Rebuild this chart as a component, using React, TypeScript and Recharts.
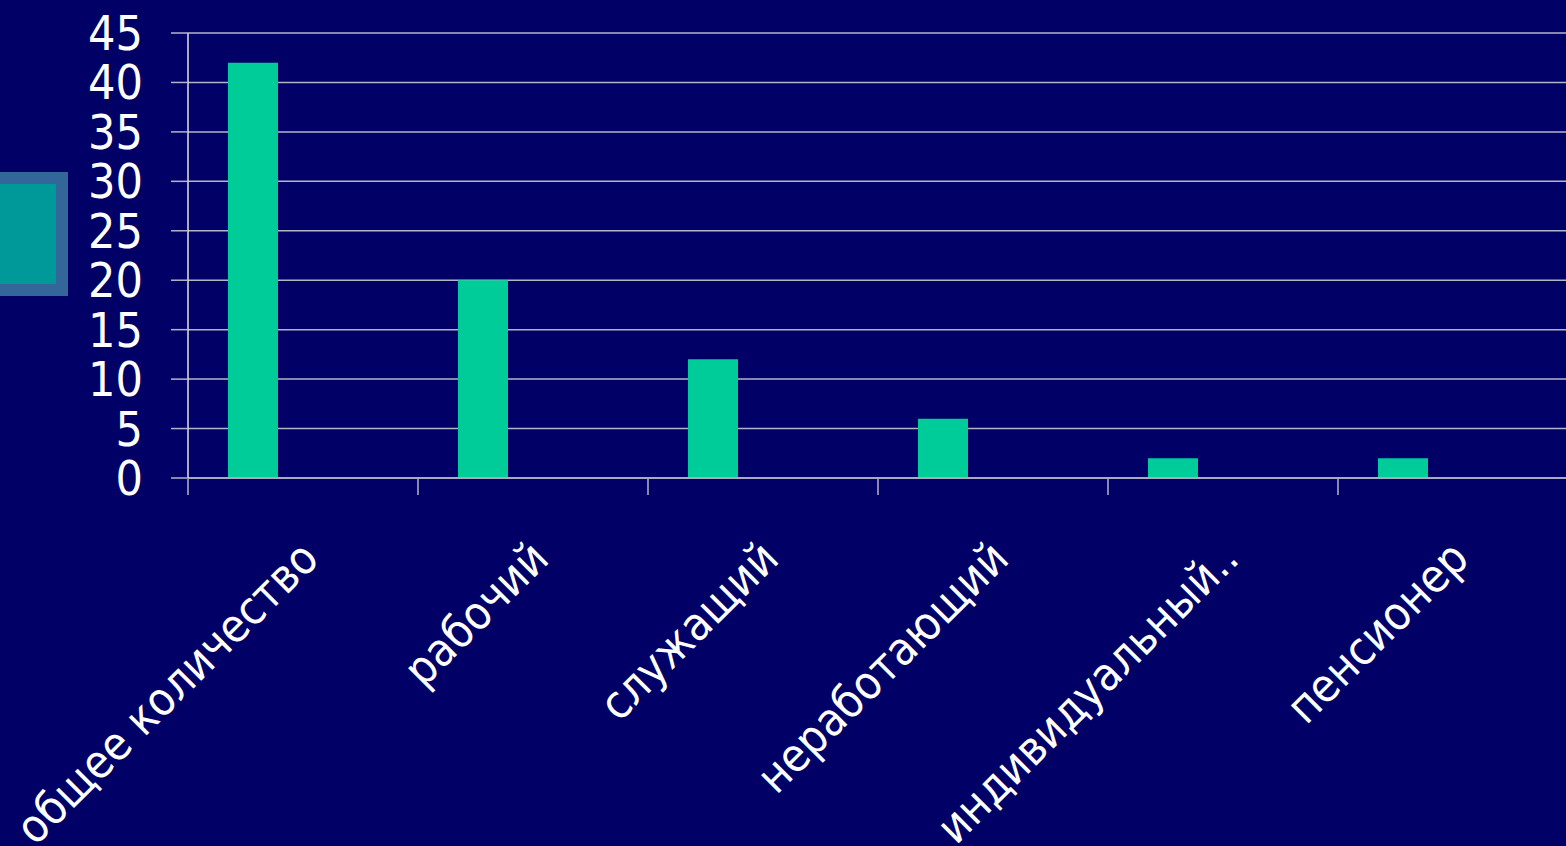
import { BarChart, Bar, XAxis, YAxis, CartesianGrid } from 'recharts';

const CATEGORIES = ['общее количество', 'рабочий', 'служащий', 'неработающий', 'индивидуальный..', 'пенсионер'];
const COUNTS = [42, 20, 12, 6, 2, 2];
const Y_TICKS = [0, 5, 10, 15, 20, 25, 30, 35, 40, 45];
// границы категорий для засечек оси X
const EDGE_TICKS = [0, 1, 2, 3, 4, 5, 6];

const BG = '#000066';
const BAR = '#00CC99';
const LINE = '#b4b4c8';
const FONT = "'DejaVu Sans Condensed', 'DejaVu Sans', sans-serif";

const data = CATEGORIES.map((name, i) => ({ name, idx: i, count: COUNTS[i] }));

const CategoryTick = ({ x, y, payload }: any) => (
  <g transform={`translate(${x + 18},${y}) rotate(-45)`}>
    <text x={0} y={0} textAnchor="end" fill="#fff" fontSize={46} fontFamily={FONT}>
      {payload.value}
    </text>
  </g>
);

export default function App() {
  return (
    <div style={{ position: 'absolute', left: 0, top: 0, width: 1566, height: 846, overflow: 'hidden', background: BG }}>
      {/* маркер слайда слева */}
      <div style={{ position: 'absolute', left: 0, top: 172, width: 68, height: 124, background: '#336699' }} />
      <div style={{ position: 'absolute', left: 0, top: 184, width: 56, height: 100, background: '#009999' }} />
      <div style={{ position: 'absolute', left: 0, top: 0 }}>
        <BarChart
          width={1568}
          height={846}
          data={data}
          margin={{ top: 33, right: 0, left: 0, bottom: 366 }}
          barCategoryGap={40}
          barGap={0}
        >
          <CartesianGrid vertical={false} stroke={LINE} strokeWidth={1.5} />
          <XAxis xAxisId="edge" dataKey="idx" type="number" domain={[0, 6]} allowDataOverflow ticks={EDGE_TICKS}
            tick={() => null} tickSize={16} axisLine={false} tickLine={{ stroke: LINE, strokeWidth: 1.5 }}
            height={1} interval={0} />
          <XAxis dataKey="name" height={1} tickSize={0} tickMargin={83} interval={0}
            axisLine={{ stroke: LINE, strokeWidth: 1.5 }} tick={<CategoryTick />} />
          <YAxis domain={[0, 45]} ticks={Y_TICKS} width={188} tickSize={17} tickMargin={28} interval={0}
            axisLine={{ stroke: '#e0e0e8', strokeWidth: 1.5 }} tickLine={{ stroke: LINE, strokeWidth: 1.5 }}
            tick={{ fill: '#fff', fontSize: 48, fontFamily: FONT }} />
          <Bar dataKey="count" fill={BAR} isAnimationActive={false} />
          <Bar dataKey="s2" fill={BAR} isAnimationActive={false} />
          <Bar dataKey="s3" fill={BAR} isAnimationActive={false} />
        </BarChart>
      </div>
    </div>
  );
}
